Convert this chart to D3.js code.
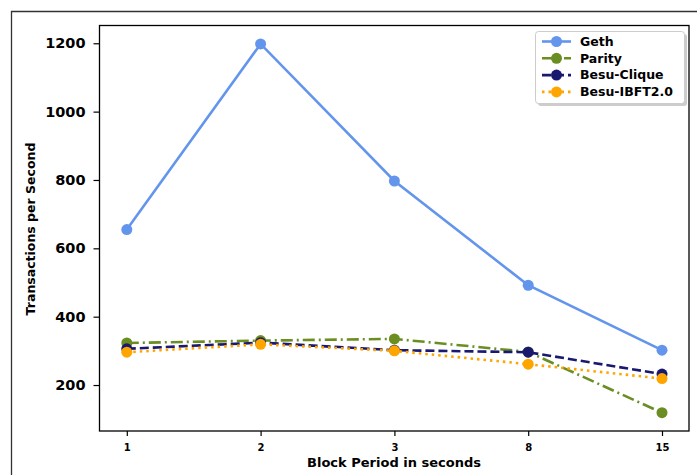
<!DOCTYPE html>
<html><head><meta charset="utf-8">
<script src="https://cdn.jsdelivr.net/npm/d3@7"></script>
<style>body{margin:0;background:#fff;}svg{display:block;font-family:"DejaVu Sans",sans-serif;}</style>
</head><body>
<svg id="c" width="697" height="475"></svg>
<script>
const categories = ["1", "2", "3", "8", "15"];
const geth = [655, 1198, 797, 492, 302];
const parity = [323, 330, 335, 297, 119];
const besuClique = [306, 324, 302, 296, 232];
const besuIBFT = [296, 319, 300, 261, 219];
const yTicks = [200, 400, 600, 800, 1000, 1200];
const seriesNames = ["Geth", "Parity", "Besu-Clique", "Besu-IBFT2.0"];

const series = [
  {name: seriesNames[0], values: geth, color: "#6495ED", dash: null},
  {name: seriesNames[1], values: parity, color: "#6B8E23", dash: "12,4,2,4"},
  {name: seriesNames[2], values: besuClique, color: "#191970", dash: "9,4"},
  {name: seriesNames[3], values: besuIBFT, color: "#FFA500", dash: "2.5,4"}
];

const FONT = "DejaVu Sans";
const svg = d3.select("#c");
const L = 99.5, R = 689, T = 25.5, B = 431;

// outer frame
svg.append("path").attr("d", "M11.5,475 L11.5,11.5 L697,11.5")
  .attr("fill", "none").attr("stroke", "#333").attr("stroke-width", 1.3);

const x = d3.scalePoint().domain(categories).range([126.8, 662]);
const y = d3.scaleLinear().domain([65.5, 1252]).range([B, T]);

// axes
const xAxis = svg.append("g").attr("transform", `translate(0,${B})`)
  .call(d3.axisBottom(x).tickSize(5).tickPadding(7.5));
xAxis.attr("font-family", FONT);
xAxis.select(".domain").remove();
xAxis.selectAll("text").attr("font-size", "10px").attr("font-weight", "bold").attr("fill", "#000");
xAxis.selectAll("line").attr("stroke", "#000").attr("stroke-width", 1.2);

const yAxis = svg.append("g").attr("transform", `translate(${L},0)`)
  .call(d3.axisLeft(y).tickValues(yTicks).tickFormat(d3.format("d")).tickSize(6).tickPadding(8));
yAxis.attr("font-family", FONT);
yAxis.select(".domain").remove();
yAxis.selectAll("text").attr("font-size", "14.5px").attr("font-weight", "bold").attr("fill", "#000");
yAxis.selectAll("line").attr("stroke", "#000").attr("stroke-width", 1.2);

svg.append("rect").attr("x", L).attr("y", T).attr("width", R - L).attr("height", B - T)
  .attr("fill", "none").attr("stroke", "#000").attr("stroke-width", 1.3);

svg.append("text").attr("x", 394).attr("y", 467.3).attr("text-anchor", "middle")
  .attr("font-size", "13px").attr("font-weight", "bold").text("Block Period in seconds");
svg.append("text").attr("transform", "translate(34.5,229) rotate(-90)").attr("text-anchor", "middle")
  .attr("font-size", "12.5px").attr("font-weight", "bold").text("Transactions per Second");

const line = d3.line().x((d, i) => x(categories[i])).y(d => y(d));
series.forEach(s => {
  svg.append("path").datum(s.values).attr("d", line)
    .attr("fill", "none").attr("stroke", s.color).attr("stroke-width", 2.6)
    .attr("stroke-dasharray", s.dash);
  svg.selectAll(null).data(s.values).enter().append("circle")
    .attr("cx", (d, i) => x(categories[i])).attr("cy", d => y(d)).attr("r", 5.5)
    .attr("fill", s.color);
});

// legend
const lg = svg.append("g");
lg.append("rect").attr("x", 538).attr("y", 34).attr("width", 149).attr("height", 72)
  .attr("rx", 3).attr("fill", "#999").attr("opacity", 0.5);
lg.append("rect").attr("x", 535.5).attr("y", 31.5).attr("width", 149).attr("height", 72)
  .attr("rx", 3).attr("fill", "#fff").attr("stroke", "#ccc").attr("stroke-width", 1);
series.forEach((s, i) => {
  const yy = 41.5 + i * 16.8;
  lg.append("line").attr("x1", 542).attr("x2", 571).attr("y1", yy).attr("y2", yy)
    .attr("stroke", s.color).attr("stroke-width", 2.6).attr("stroke-dasharray", s.dash);
  lg.append("circle").attr("cx", 556.5).attr("cy", yy).attr("r", 5.5).attr("fill", s.color);
  lg.append("text").attr("x", 580).attr("y", yy + 4.3).attr("font-size", "12.5px")
    .attr("font-weight", "bold").text(s.name);
});
</script>
</body></html>
